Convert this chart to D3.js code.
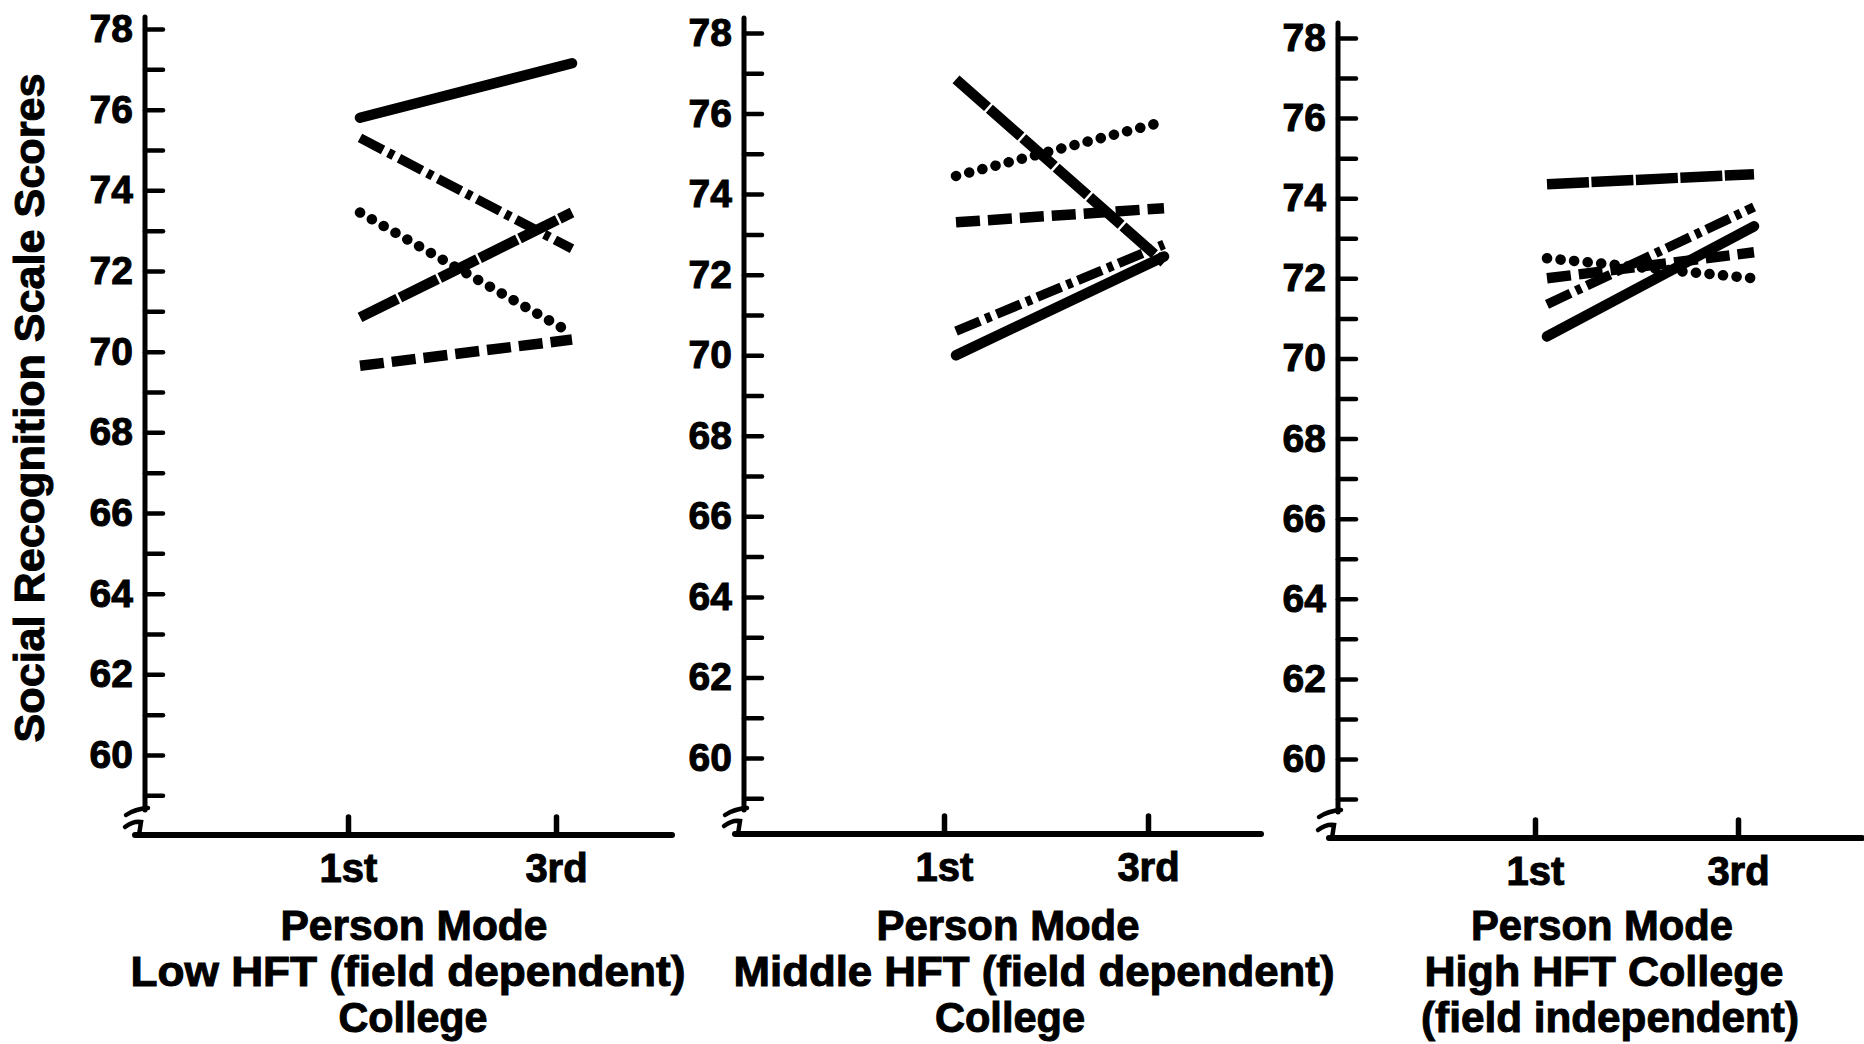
<!DOCTYPE html>
<html>
<head>
<meta charset="utf-8">
<script src="https://cdn.jsdelivr.net/npm/d3@7"></script>
<style>
  html, body { margin: 0; padding: 0; background: #ffffff; }
  svg { display: block; }
  text { font-family: "Liberation Sans", Arial, Helvetica, sans-serif; font-weight: bold; fill: #000; stroke: #000; stroke-width: 1px; }
  .ytick text { font-size: 39px; }
  .xtick text { font-size: 40px; }
  .title { font-size: 42px; }
  .ylabel { font-size: 42px; }
</style>
</head>
<body>
<svg id="chart" width="1864" height="1044"></svg>
<script>
// ---------------- DATA ----------------
const categories = ["1st", "3rd"];
const yMajorTicks = [60, 62, 64, 66, 68, 70, 72, 74, 76, 78];
const yMinorTicks = [59, 61, 63, 65, 67, 69, 71, 73, 75, 77];
const yAxisTitle = "Social Recognition Scale Scores";
const panelTitles = [
  ["Person Mode", "Low HFT (field dependent)", "College"],
  ["Person Mode", "Middle HFT (field dependent)", "College"],
  ["Person Mode", "High HFT College", "(field independent)"]
];
// values per panel: [1st, 3rd]
const solidSeries    = [[75.8, 77.15], [70.0, 72.45], [70.55, 73.3]];
const longDashSeries = [[70.85, 73.45], [76.85, 72.3], [74.35, 74.6]];
const dashedSeries   = [[69.65, 70.3], [73.3, 73.65], [72.0, 72.65]];
const dottedSeries   = [[73.45, 70.45], [74.45, 75.8], [72.5, 72.0]];
const dashDotSeries  = [[75.3, 72.55], [70.6, 72.75], [71.35, 73.78]];

// ---------------- STYLE / LAYOUT ----------------
const seriesList = [
  { values: solidSeries,    dash: null,       width: 10.5, cap: "round" },
  { values: longDashSeries, dash: "42,2.5",   width: 10.5, cap: "butt" },
  { values: dashedSeries,   dash: "24,8",     width: 10.5, cap: "butt" },
  { values: dottedSeries,   dash: "0.1,13.5", width: 10.5, cap: "round" },
  { values: dashDotSeries,  dash: "26,6,6,6", width: 9.5,  cap: "butt" }
];
const layout = [
  { axisX: 145,  yTop: 29, yBottom: 755, axisTop: 17, breakY: 810, baseY: 835, xStart: 135, xEnd: 672,  t1: 348,  t3: 556,
    titleX: [414, 408, 413], titleW: [267, 555, 149] },
  { axisX: 744,  yTop: 33, yBottom: 758, axisTop: 18, breakY: 810, baseY: 834, xStart: 735, xEnd: 1261, t1: 944,  t3: 1148,
    titleX: [1008, 1034, 1010], titleW: [263, 601, 150] },
  { axisX: 1338, yTop: 38, yBottom: 759, axisTop: 23, breakY: 812, baseY: 838, xStart: 1329, xEnd: 1862, t1: 1535, t3: 1738,
    titleX: [1602, 1604, 1610], titleW: [262, 359, 378] }
];
const titleBaselines = [940, 986, 1032];

const svg = d3.select("#chart");

// y-axis title
svg.append("text")
  .attr("class", "ylabel")
  .attr("transform", "translate(44,408) rotate(-90)")
  .attr("text-anchor", "middle")
  .attr("textLength", 669)
  .attr("lengthAdjust", "spacingAndGlyphs")
  .text(yAxisTitle);

layout.forEach((L, p) => {
  const g = svg.append("g");
  const y = d3.scaleLinear().domain([60, 78]).range([L.yBottom, L.yTop]);
  const x = d3.scalePoint().domain(categories).range([L.t1, L.t3]);
  const xLine = d3.scalePoint().domain(categories).range([L.t1 + 12, L.t3 + 16]);

  // y axis ticks + labels
  const yAxis = d3.axisLeft(y)
    .tickValues(yMajorTicks.concat(yMinorTicks).sort((a, b) => a - b))
    .tickSize(-18)
    .tickPadding(12)
    .tickFormat(d => (yMajorTicks.includes(d) ? String(d) : ""));
  const yg = g.append("g").attr("class", "ytick")
    .attr("transform", `translate(${L.axisX},0)`)
    .call(yAxis);
  yg.select(".domain").remove();
  yg.selectAll(".tick line").attr("stroke", "#000").attr("stroke-width", 4.5).attr("stroke-linecap", "round");
  yg.attr("font-size", null).attr("font-family", null);

  // y axis line
  g.append("line")
    .attr("x1", L.axisX).attr("x2", L.axisX)
    .attr("y1", L.axisTop).attr("y2", L.breakY)
    .attr("stroke", "#000").attr("stroke-width", 5).attr("stroke-linecap", "round");

  // axis break marks
  g.append("path")
    .attr("d", `M${L.axisX - 19},${L.breakY + 5} Q${L.axisX - 10},${L.breakY - 1} ${L.axisX + 3},${L.breakY - 2}`)
    .attr("fill", "none").attr("stroke", "#000").attr("stroke-width", 4.5).attr("stroke-linecap", "round");
  g.append("path")
    .attr("d", `M${L.axisX - 20},${L.baseY - 8} Q${L.axisX - 12},${L.baseY - 14} ${L.axisX - 4},${L.baseY - 13} L${L.axisX - 6},${L.baseY}`)
    .attr("fill", "none").attr("stroke", "#000").attr("stroke-width", 4.5).attr("stroke-linecap", "round");

  // x axis line
  g.append("line")
    .attr("x1", L.xStart).attr("x2", L.xEnd)
    .attr("y1", L.baseY).attr("y2", L.baseY)
    .attr("stroke", "#000").attr("stroke-width", 6).attr("stroke-linecap", "round");

  // x axis ticks + labels
  const xAxis = d3.axisBottom(x).tickSize(-18).tickPadding(19);
  const xg = g.append("g").attr("class", "xtick")
    .attr("transform", `translate(0,${L.baseY})`)
    .call(xAxis);
  xg.select(".domain").remove();
  xg.selectAll(".tick line").attr("stroke", "#000").attr("stroke-width", 5.5).attr("stroke-linecap", "round");
  xg.attr("font-size", null).attr("font-family", null);

  // series lines
  const line = d3.line().x(d => xLine(d.c)).y(d => y(d.v));
  seriesList.forEach(s => {
    const pts = categories.map((c, i) => ({ c, v: s.values[p][i] }));
    const path = g.append("path")
      .attr("d", line(pts))
      .attr("fill", "none")
      .attr("stroke", "#000")
      .attr("stroke-width", s.width)
      .attr("stroke-linecap", s.cap);
    if (s.dash) path.attr("stroke-dasharray", s.dash);
  });

  // panel titles
  panelTitles[p].forEach((t, i) => {
    g.append("text")
      .attr("class", "title")
      .attr("x", L.titleX[i])
      .attr("y", titleBaselines[i])
      .attr("text-anchor", "middle")
      .attr("textLength", L.titleW[i])
      .attr("lengthAdjust", "spacingAndGlyphs")
      .text(t);
  });
});
</script>
</body>
</html>
